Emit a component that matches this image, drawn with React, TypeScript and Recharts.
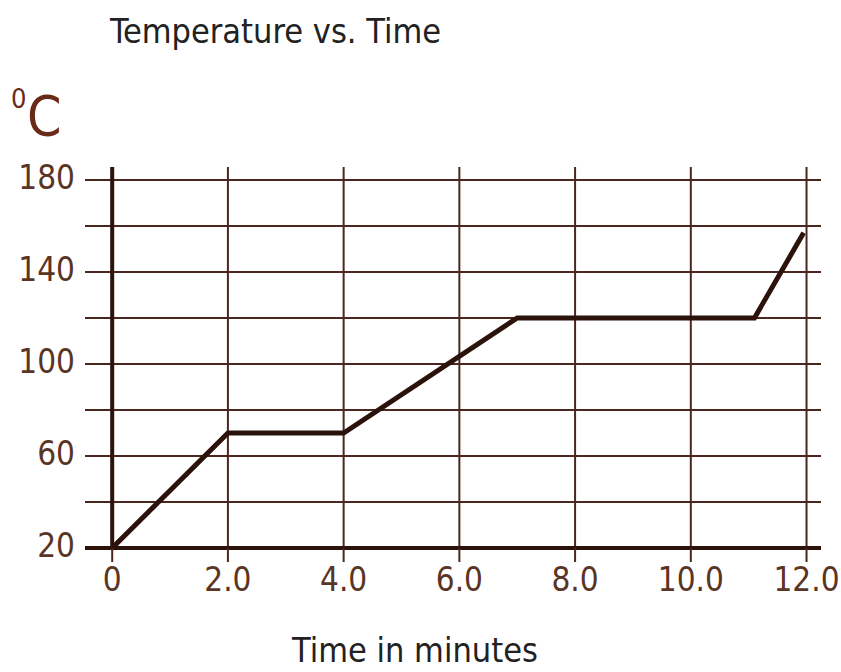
import React from 'react';
import { LineChart, Line, XAxis, YAxis, ReferenceLine } from 'recharts';

const times = [0, 2, 4, 7, 11.1, 11.95];
const temps = [20, 70, 70, 120, 120, 157];
const xTicks = [0, 2, 4, 6, 8, 10, 12];
const xTickLabels = ['0', '2.0', '4.0', '6.0', '8.0', '10.0', '12.0'];
const yTicks = [20, 40, 60, 80, 100, 120, 140, 160, 180];
const yLabelled = [20, 60, 100, 140, 180];

const data = times.map((t, i) => ({ t, temp: temps[i] }));

const FONT = '"DejaVu Sans Condensed", "DejaVu Sans", sans-serif';
const GRID = '#4a2820';
const DARK = '#2b120a';
const TICK = '#5a3424';

export default function App() {
  return (
    <div style={{ position: 'absolute', left: 0, top: 0, width: 841, height: 672, background: '#fff' }}>
      <LineChart
        width={841}
        height={672}
        data={data}
        margin={{ top: 167, right: 20, bottom: 64, left: 0 }}
      >
        {yTicks.map((v) => (
          <ReferenceLine key={'h' + v} y={v} stroke={GRID} strokeWidth={2} />
        ))}
        {xTicks.map((v) => (
          <ReferenceLine key={'v' + v} x={v} stroke={GRID} strokeWidth={2} />
        ))}
        <XAxis
          dataKey="t"
          type="number"
          domain={[-0.47, 12.25]}
          allowDataOverflow
          ticks={xTicks}
          tickFormatter={(v: number) => xTickLabels[xTicks.indexOf(v)] ?? ''}
          height={60}
          tickSize={14}
          tickMargin={6}
          tickLine={{ stroke: GRID, strokeWidth: 2 }}
          axisLine={{ stroke: DARK, strokeWidth: 4 }}
          tick={{ fill: TICK, fontSize: 33, fontFamily: FONT }}
          interval={0}
        />
        <YAxis
          type="number"
          domain={[20, 185.6]}
          allowDataOverflow
          ticks={yTicks}
          tickFormatter={(v: number) => (yLabelled.includes(v) ? String(v) : '')}
          width={85}
          tickLine={false}
          axisLine={false}
          tickSize={6}
          tickMargin={4}
          tick={{ fill: TICK, fontSize: 33, fontFamily: FONT, dy: -3 }}
          interval={0}
        />
        <ReferenceLine x={0} stroke={DARK} strokeWidth={4} />
        <Line
          type="linear"
          dataKey="temp"
          stroke={DARK}
          strokeWidth={5}
          dot={false}
          isAnimationActive={false}
        />
      </LineChart>
      <svg
        width={841}
        height={672}
        style={{ position: 'absolute', left: 0, top: 0, pointerEvents: 'none' }}
      >
        <text x={110} y={43} fontSize={34} fontFamily={FONT} fill="#222">
          Temperature vs. Time
        </text>
        <text x={11} y={108} fontSize={27} fontFamily={FONT} fill="#6a2a18">
          0
        </text>
        <text x={27} y={135} fontSize={55} fontFamily={FONT} fill="#6a2a18">
          C
        </text>
        <text x={415} y={662} fontSize={34} fontFamily={FONT} fill="#222" textAnchor="middle">
          Time in minutes
        </text>
      </svg>
    </div>
  );
}
